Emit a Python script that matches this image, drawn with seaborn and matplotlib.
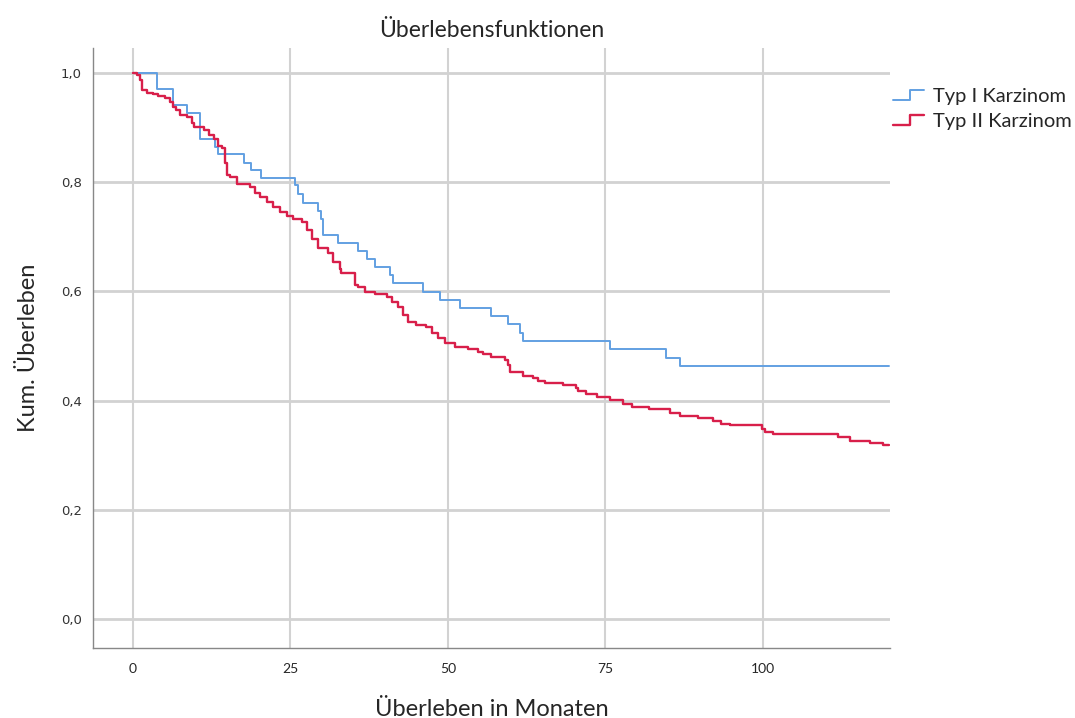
import pandas as pd
import matplotlib
matplotlib.use("Agg")
import matplotlib.pyplot as plt
import seaborn as sns
from matplotlib.lines import Line2D
from matplotlib.legend_handler import HandlerBase

# Kaplan-Meier step values
typ1_months = [0, 3.8, 6.4, 8.5, 10.7, 13.0, 13.5, 17.6, 18.8, 20.4, 25.7, 26.2, 27.0,
               29.4, 29.8, 30.2, 32.6, 35.8, 37.1, 38.4, 40.8, 41.3, 46.0, 48.8, 51.9,
               56.9, 59.5, 61.5, 62.0, 75.8, 84.7, 86.9, 120]
typ1_surv = [1.0, 0.970, 0.941, 0.927, 0.880, 0.865, 0.852, 0.836, 0.822, 0.808, 0.795,
             0.779, 0.763, 0.748, 0.733, 0.704, 0.688, 0.675, 0.659, 0.644, 0.630, 0.615,
             0.599, 0.584, 0.569, 0.555, 0.540, 0.524, 0.510, 0.494, 0.479, 0.464, 0.464]

typ2_months = [0, 0.6, 1.1, 1.5, 2.2, 3.2, 4.0, 5.1, 5.9, 6.4, 6.8, 7.4, 8.5, 9.3, 9.7,
               11.2, 12.0, 12.8, 13.5, 14.2, 14.6, 14.9, 15.4, 16.5, 18.6, 19.4, 20.2,
               21.2, 22.3, 23.3, 24.4, 25.4, 26.8, 27.6, 28.4, 29.4, 31.0, 31.8, 32.9,
               33.1, 35.2, 35.8, 36.8, 38.4, 40.3, 41.1, 42.1, 42.9, 43.7, 45.0, 46.6,
               47.4, 48.5, 49.5, 51.1, 53.2, 54.8, 55.6, 56.9, 59.0, 59.6, 59.9, 61.9,
               63.5, 64.3, 65.4, 68.3, 70.3, 70.7, 72.0, 73.6, 75.7, 77.8, 79.2, 82.0,
               85.2, 86.8, 89.7, 92.1, 93.4, 94.8, 99.8, 100.3, 101.6, 112.0, 113.8,
               117.0, 119.1, 120]
typ2_surv = [1.0, 0.996, 0.987, 0.969, 0.964, 0.962, 0.958, 0.954, 0.947, 0.938, 0.932,
             0.923, 0.919, 0.908, 0.901, 0.896, 0.886, 0.879, 0.866, 0.862, 0.835, 0.813,
             0.810, 0.797, 0.792, 0.781, 0.773, 0.764, 0.755, 0.746, 0.738, 0.733, 0.727,
             0.712, 0.697, 0.679, 0.670, 0.654, 0.642, 0.633, 0.612, 0.608, 0.599, 0.595,
             0.590, 0.581, 0.572, 0.557, 0.545, 0.538, 0.535, 0.524, 0.514, 0.506, 0.499,
             0.494, 0.490, 0.485, 0.480, 0.474, 0.465, 0.453, 0.445, 0.441, 0.436, 0.433,
             0.429, 0.424, 0.418, 0.412, 0.407, 0.402, 0.394, 0.389, 0.384, 0.378, 0.372,
             0.368, 0.363, 0.358, 0.355, 0.349, 0.343, 0.339, 0.333, 0.327, 0.323, 0.319,
             0.319]

groups = ['Typ I Karzinom', 'Typ II Karzinom']
colors = ['#62a0e2', '#d81f4a']
line_widths = [1.4, 1.7]
x_ticks = [0, 25, 50, 75, 100]
y_ticks = [0.0, 0.2, 0.4, 0.6, 0.8, 1.0]
y_tick_labels = ['0,0', '0,2', '0,4', '0,6', '0,8', '1,0']

df = pd.concat([
    pd.DataFrame({'Monate': typ1_months, 'Ueberleben': typ1_surv, 'Gruppe': groups[0]}),
    pd.DataFrame({'Monate': typ2_months, 'Ueberleben': typ2_surv, 'Gruppe': groups[1]}),
])

sns.set_style('white')
plt.rcParams['font.family'] = ['Lato', 'DejaVu Sans']

fig = plt.figure(figsize=(10.75, 7.18), dpi=100)
ax = fig.add_axes([93 / 1075, 70 / 718, 797 / 1075, 600 / 718])

sns.lineplot(data=df, x='Monate', y='Ueberleben', hue='Gruppe', palette=colors,
             estimator=None, drawstyle='steps-post', linewidth=1.5, legend=False, ax=ax)
for line, lw in zip(ax.lines, line_widths):
    line.set_linewidth(lw)

ax.set_xlim(-6.35, 120.2)
ax.set_ylim(-0.053, 1.046)
ax.set_xticks(x_ticks)
ax.set_xticklabels([str(t) for t in x_ticks], fontsize=10)
ax.set_yticks(y_ticks)
ax.set_yticklabels(y_tick_labels, fontsize=9.5, family='DejaVu Sans', color='#333333')
ax.tick_params(axis='both', length=0)
ax.tick_params(axis='x', pad=11)
ax.tick_params(axis='y', pad=8)
ax.grid(True, axis='y', color='#d2d2d2', linewidth=2)
ax.grid(True, axis='x', color='#d2d2d2', linewidth=1.5)
ax.set_axisbelow(True)
for side in ['top', 'right']:
    ax.spines[side].set_visible(False)
for side in ['left', 'bottom']:
    ax.spines[side].set_color('#888888')
    ax.spines[side].set_linewidth(1)

ax.set_xlabel('Überleben in Monaten', fontsize=17, labelpad=17)
ax.set_ylabel('Kum. Überleben', fontsize=17, labelpad=16)
ax.set_title('Überlebensfunktionen', fontsize=16.5, pad=8)


class StepHandler(HandlerBase):
    def create_artists(self, legend, orig_handle, xdescent, ydescent, width, height, fontsize, trans):
        xs = [-xdescent, -xdescent + width * 0.55, -xdescent + width * 0.55, -xdescent + width]
        y0 = -ydescent + height * 0.15
        y1 = -ydescent + height * 0.85
        line = Line2D(xs, [y0, y0, y1, y1], color=orig_handle.get_color(),
                      linewidth=orig_handle.get_linewidth(), transform=trans)
        return [line]


handles = [Line2D([], [], color=c, linewidth=lw) for c, lw in zip(colors, line_widths)]
fig.legend(handles=handles, labels=groups, handler_map={Line2D: StepHandler()},
           loc='upper left', bbox_to_anchor=(893 / 1075, (718 - 88) / 718), frameon=False,
           fontsize=14.5, handlelength=1.55, handletextpad=0.45, labelspacing=0.4,
           borderaxespad=0, borderpad=0)

fig.savefig('out.png', dpi=100)
